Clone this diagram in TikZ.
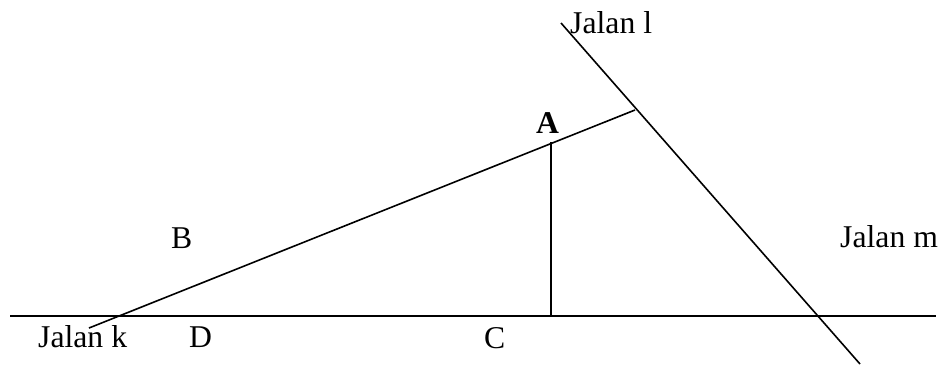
\documentclass[tikz,border=0pt]{standalone}
\usepackage{fontspec}
\setmainfont{Liberation Serif}
\usepackage{tikz}
\usetikzlibrary{positioning,calc}
\tikzset{
  jalan/.style={black,line width=1.6pt},
  lbl/.style={font=\fontsize{31.7}{36}\selectfont,inner sep=0pt,anchor=base west}
}

\begin{document}
\begin{tikzpicture}[x=1pt,y=-1pt]
  \useasboundingbox (0,0) rectangle (941,365);
  % end points of the roads
  \coordinate (kwest) at (10,316);
  \coordinate (keast) at (936,316);
  \coordinate (ltop) at (561,23);
  \coordinate (lbot) at (860,364);
  \coordinate (mwest) at (89,328);
  \coordinate (meet) at (635,110);
  \coordinate (foot) at (551,316);
  \coordinate (atop) at (551,142);
  % roads
  \draw[jalan] (kwest) -- (keast);
  \draw[jalan] (ltop) -- (lbot);
  \draw[jalan] (mwest) -- (meet);
  \draw[jalan] (atop) -- (foot);
  % labels
  \node[lbl] (jl) at (570,33) {Jalan l};
  \node[lbl] (pa) at (536,133) {\textbf{A}};
  \node[lbl] (pb) at (171,248) {B};
  \node[lbl] (jm) at (840,247) {Jalan m};
  \node[lbl] (jk) at (38,347) {Jalan k};
  \node[lbl] (pd) at (189,347) {D};
  \node[lbl] (pc) at (484,348) {C};
\end{tikzpicture}
\end{document}
